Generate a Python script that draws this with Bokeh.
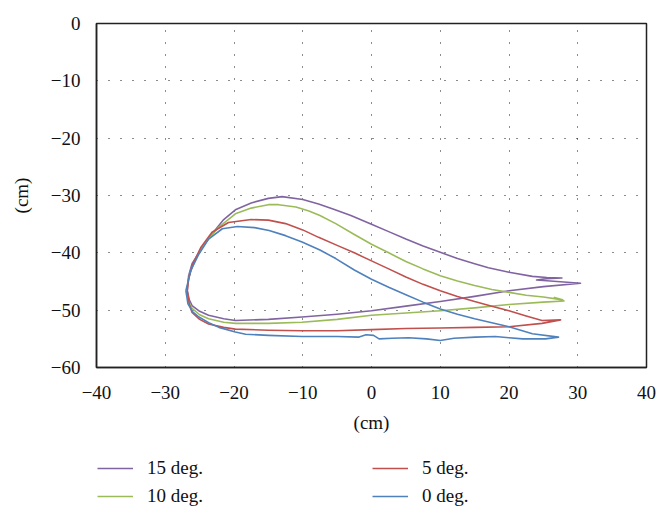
from bokeh.plotting import figure
from bokeh.layouts import column
from bokeh.models import Legend, LegendItem, FixedTicker, Range1d
from bokeh.embed import file_html
from bokeh.resources import INLINE

# ---- data ----
x_ticks = [-40, -30, -20, -10, 0, 10, 20, 30, 40]
y_ticks = [-60, -50, -40, -30, -20, -10, 0]

labels = ["15 deg.", "10 deg.", "5 deg.", "0 deg."]
colors = ["#8064A2", "#9BBB59", "#C0504D", "#4F81BD"]

x15 = [-26.8, -26.5, -26.1, -25.0, -23.7, -21.5, -19.8, -15.0, -10.1, -5.0, 0.0, 5.0, 10.0, 15.0, 20.0, 25.0, 30.4,
       27.0, 24.0, 25.5, 27.7, 25.5, 23.4, 20.0, 17.0, 15.0, 12.5, 10.0, 7.5, 5.0, 2.5, 0.0, -3.0, -5.5, -7.7, -10.0, -13.0,
       -15.0, -17.5, -19.8, -21.5, -23.2, -24.6, -26.1, -26.6, -26.8]
y15 = [-46.6, -48.2, -49.2, -50.2, -50.9, -51.5, -51.8, -51.6, -51.2, -50.7, -50.1, -49.3, -48.5, -47.6, -46.6, -45.9, -45.3,
       -45.0, -44.75, -44.5, -44.4, -44.3, -44.1, -43.4, -42.6, -41.9, -41.0, -39.9, -38.8, -37.6, -36.3, -35.0, -33.5, -32.4, -31.5, -30.7, -30.2,
       -30.5, -31.3, -32.5, -34.2, -36.7, -39.0, -41.9, -44.0, -46.6]

x10 = [-26.9, -26.6, -26.1, -25.0, -23.7, -21.5, -19.8, -15.0, -10.1, -5.0, 0.0, 5.0, 10.0, 15.0, 20.0, 25.0, 28.0,
       26.6, 27.8, 25.0, 22.5, 20.0, 17.5, 15.0, 12.5, 10.0, 7.5, 5.0, 2.5, 0.0, -2.5, -5.2, -7.5, -9.1, -11.0, -13.5,
       -15.0, -17.5, -19.8, -22.2, -24.0, -25.5, -26.4, -26.9]
y10 = [-46.6, -48.5, -49.7, -50.8, -51.5, -52.1, -52.3, -52.3, -52.1, -51.6, -50.9, -50.5, -50.1, -49.6, -49.0, -48.6, -48.4,
       -47.8, -48.2, -47.7, -47.4, -46.9, -46.4, -45.7, -44.9, -44.0, -42.8, -41.5, -40.0, -38.5, -36.8, -34.9, -33.5, -32.7, -32.0, -31.6,
       -31.6, -32.2, -33.2, -35.5, -38.0, -40.8, -43.5, -46.6]

x5 = [-26.8, -26.5, -26.1, -25.0, -23.7, -21.5, -19.8, -15.0, -10.1, -5.0, 0.0, 5.0, 10.0, 15.0, 20.0, 24.8, 27.5,
      24.8, 22.5, 20.0, 17.5, 15.0, 12.5, 10.0, 7.5, 5.0, 2.5, 0.0, -2.5, -5.0, -7.7, -10.0, -12.5, -15.0, -17.5,
      -20.8, -23.2, -24.8, -26.0, -26.6, -26.8]
y5 = [-46.6, -49.0, -50.4, -51.6, -52.4, -53.0, -53.3, -53.5, -53.6, -53.6, -53.4, -53.2, -53.1, -53.0, -52.9, -52.3, -51.7,
      -51.8, -51.0, -50.1, -49.3, -48.5, -47.6, -46.6, -45.5, -44.2, -42.8, -41.4, -40.0, -38.7, -37.3, -36.0, -34.9, -34.3, -34.2,
      -34.7, -36.4, -39.0, -42.0, -44.5, -46.6]

x0 = [-27.0, -26.7, -26.0, -25.1, -23.5, -22.2, -19.8, -18.3, -15.0, -10.1, -5.0, -1.8, -0.8, 0.3, 1.1, 3.0, 5.4, 8.0,
      10.0, 12.0, 15.1, 18.0, 20.0, 22.0, 25.3, 27.2, 23.4, 20.0, 17.5, 15.0, 12.5, 10.0, 7.5, 5.0, 2.5, 0.0, -2.5,
      -5.2, -7.5, -10.1, -12.5, -14.9, -17.0, -19.5, -21.7, -23.7, -25.1, -26.3, -27.0]
y0 = [-46.6, -48.9, -50.3, -51.2, -52.3, -53.0, -53.8, -54.2, -54.4, -54.6, -54.6, -54.7, -54.3, -54.4, -55.0, -54.9, -54.8, -55.0,
      -55.3, -54.9, -54.7, -54.6, -54.8, -55.0, -55.0, -54.7, -54.1, -52.9, -52.2, -51.5, -50.7, -49.8, -48.6, -47.3, -46.0, -44.6, -43.0,
      -41.0, -39.5, -38.1, -37.0, -36.1, -35.6, -35.4, -35.8, -37.6, -40.2, -43.1, -46.6]

series_x = [x15, x10, x5, x0]
series_y = [y15, y10, y5, y0]

FONT = "Liberation Serif"
FS = "19px"

p = figure(width=666, height=440, output_backend="svg", toolbar_location=None,
           x_range=Range1d(-40, 40), y_range=Range1d(-60, 0),
           min_border_left=96, min_border_right=20, min_border_top=23, min_border_bottom=73)
p.background_fill_color = "white"
p.border_fill_color = "white"
p.outline_line_color = "#222222"
p.outline_line_width = 1.5

for xs, ys, c in zip(series_x, series_y, colors):
    p.line(xs, ys, line_color=c, line_width=1.6, line_join="round")

for ax in (p.xaxis[0], p.yaxis[0]):
    ax.major_label_text_font = FONT
    ax.major_label_text_font_size = FS
    ax.major_label_text_color = "#111111"
    ax.axis_label_text_font = FONT
    ax.axis_label_text_font_size = FS
    ax.axis_label_text_font_style = "normal"
    ax.axis_label_text_color = "#111111"
    ax.major_tick_line_color = None
    ax.minor_tick_line_color = None
    ax.axis_line_color = "#222222"
    ax.axis_line_width = 1.5

p.xaxis.ticker = FixedTicker(ticks=x_ticks)
p.yaxis.ticker = FixedTicker(ticks=y_ticks)
p.xaxis.major_label_overrides = {t: (str(t).replace("-", "\u2212")) for t in x_ticks}
p.yaxis.major_label_overrides = {t: (str(t).replace("-", "\u2212")) for t in y_ticks}
p.xaxis.axis_label = "(cm)"
p.yaxis.axis_label = "(cm)"
p.xaxis.major_label_standoff = 12
p.yaxis.major_label_standoff = 10
p.xaxis.axis_label_standoff = 10
p.yaxis.axis_label_standoff = 16

for g in (p.xgrid[0], p.ygrid[0]):
    g.grid_line_color = "#000000"
    g.grid_line_dash = "1 11"
    g.grid_line_width = 1
    g.grid_line_alpha = 0.9

# legend figure below the chart (no axes, legend only)
nan = float("nan")
lg = figure(width=666, height=80, output_backend="svg", toolbar_location=None,
            x_range=Range1d(0, 1), y_range=Range1d(0, 1), min_border=0,
            x_axis_location=None, y_axis_location=None)
lg.grid.visible = False
lg.outline_line_color = None
lg_renderers = [lg.line(x=[nan], y=[nan], line_color=c, line_width=1.6) for c in colors]

legend = Legend(items=[LegendItem(label=l, renderers=[r]) for l, r in zip(labels, lg_renderers)],
                ncols=2, orientation="vertical",
                location=(1, 10), margin=0, padding=0, spacing=0,
                glyph_width=36, glyph_height=28, label_height=28, label_width=225,
                label_standoff=14, border_line_color=None, background_fill_alpha=0,
                label_text_font=FONT, label_text_font_size=FS, label_text_color="#111111")
lg.add_layout(legend, "center")

layout = column(p, lg, spacing=0)
open("out.html", "w").write(file_html(layout, INLINE))
